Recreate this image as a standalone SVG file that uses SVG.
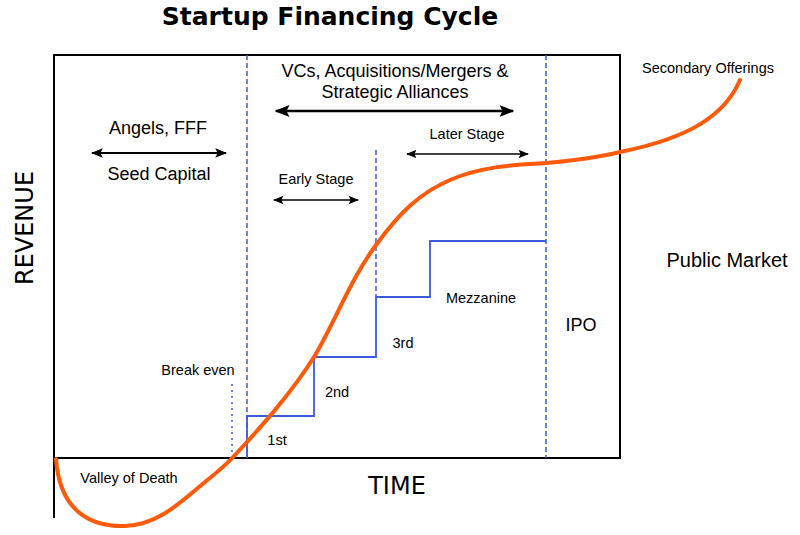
<svg xmlns="http://www.w3.org/2000/svg" width="800" height="535" viewBox="0 0 800 535">
<style>
.t{font-family:"Liberation Sans",Arial,sans-serif;fill:#000;text-anchor:middle}
.big{font-family:"DejaVu Sans",sans-serif;font-size:24px;text-anchor:middle}
.dash{stroke:#3b5bdb;stroke-width:1.5;stroke-dasharray:5,3;fill:none}
.step{stroke:#3b5bdb;stroke-width:1.8;fill:none}
.arr{stroke:#000;fill:none}
</style>
<defs>
<marker id="ah" viewBox="0 0 10 8" refX="9" refY="4" markerWidth="6" markerHeight="4.8" orient="auto-start-reverse" markerUnits="strokeWidth">
<path d="M0,0 L10,4 L0,8 L2,4 Z" fill="#000"/>
</marker>
<marker id="ahs" viewBox="0 0 10 8" refX="9" refY="4" markerWidth="7" markerHeight="5.6" orient="auto-start-reverse" markerUnits="strokeWidth">
<path d="M0,0 L10,4 L0,8 L2,4 Z" fill="#000"/>
</marker>
</defs>
<rect width="800" height="535" fill="#fff"/>
<text x="330" y="25" font-family="DejaVu Sans,sans-serif" font-weight="bold" font-size="25" text-anchor="middle">Startup Financing Cycle</text>
<g id="frame">
<path d="M54,55 H620 V458 H54 Z" fill="none" stroke="#000" stroke-width="2"/>
<path d="M54,458 V518" stroke="#000" stroke-width="2"/>
</g>
<g id="guides">
<path class="dash" d="M247,55 V458"/>
<path class="dash" d="M546,55 V458"/>
<path class="dash" d="M376,150 V297"/>
<path d="M232,384 V458" stroke="#3b5bdb" stroke-width="1.5" stroke-dasharray="2,4"/>
</g>
<g id="steps">
<path class="step" d="M247,458 V416 H314 V357 H376 V297 H430 V241 H546"/>
</g>
<g id="connectors">
<path class="arr" d="M92,153 H226" stroke-width="2" marker-start="url(#ah)" marker-end="url(#ah)"/>
<path class="arr" d="M276,111 H513" stroke-width="2.5" marker-start="url(#ah)" marker-end="url(#ah)"/>
<path class="arr" d="M274,200 H358" stroke-width="1.5" marker-start="url(#ahs)" marker-end="url(#ahs)"/>
<path class="arr" d="M407,154 H528" stroke-width="1.5" marker-start="url(#ahs)" marker-end="url(#ahs)"/>
</g>
<g id="curve">
<path d="M56,459 C60,515 95,527 125,526 C160,525 185,498 205,482 C220,470 228,463 235,455 C260,428 290,395 314,357 C335,322 350,280 376,245 C400,212 420,193 450,180 C480,167 510,165 546,163 C580,160 600,157 620,152 C690,138 725,115 740,80" fill="none" stroke="#ff5a0a" stroke-width="4" stroke-linecap="round"/>
</g>
<g id="labels">
<text class="t" x="158" y="134" font-size="18">Angels, FFF</text>
<text class="t" x="159" y="180" font-size="18">Seed Capital</text>
<text class="t" x="395" y="77" font-size="18">VCs, Acquisitions/Mergers &amp;</text>
<text class="t" x="395" y="98" font-size="18">Strategic Alliances</text>
<text class="t" x="467" y="139" font-size="14.5">Later Stage</text>
<text class="t" x="316" y="184" font-size="14.5">Early Stage</text>
<text class="t" x="708" y="73" font-size="14.5">Secondary Offerings</text>
<text class="t" x="727" y="267" font-size="20">Public Market</text>
<text class="t" x="581" y="331" font-size="18">IPO</text>
<text class="t" x="481" y="303" font-size="14.5">Mezzanine</text>
<text class="t" x="403" y="348" font-size="14.5">3rd</text>
<text class="t" x="337" y="397" font-size="14.5">2nd</text>
<text class="t" x="277" y="445" font-size="14.5">1st</text>
<text class="t" x="198" y="375" font-size="14.5">Break even</text>
<text class="t" x="129" y="483" font-size="14.5">Valley of Death</text>
<text class="big" x="397" y="494">TIME</text>
<text class="big" transform="translate(33,228) rotate(-90)">REVENUE</text>
</g>
</svg>
